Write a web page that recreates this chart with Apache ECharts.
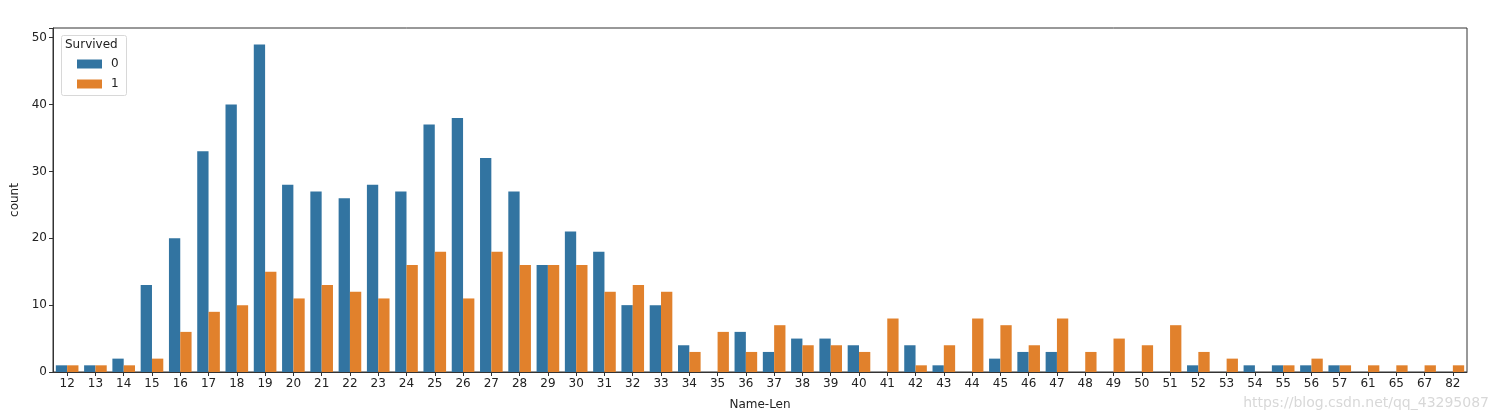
<!DOCTYPE html>
<html><head><meta charset="utf-8">
<script src="https://cdn.jsdelivr.net/npm/echarts@6/dist/echarts.min.js"></script>
<style>html,body{margin:0;padding:0;background:#fff}#c{width:1501px;height:420px}</style>
</head><body><div id="c"></div>
<script>
const categories = ['12','13','14','15','16','17','18','19','20','21','22','23','24','25','26','27','28','29','30','31','32','33','34','35','36','37','38','39','40','41','42','43','44','45','46','47','48','49','50','51','52','53','54','55','56','57','61','65','67','82'];
const survived0 = [1,1,2,13,20,33,40,49,28,27,26,28,27,37,38,32,27,16,21,18,10,10,4,0,6,3,5,5,4,0,4,1,0,2,3,3,0,0,0,0,1,0,1,1,1,1,0,0,0,0];
const survived1 = [1,1,1,2,6,9,10,15,11,13,12,11,16,18,11,18,16,16,16,12,13,12,3,6,3,7,4,4,3,8,1,4,8,7,4,8,3,5,4,7,3,2,0,1,2,1,1,1,1,1];
const yTicks = [0,10,20,30,40,50];

const font = 'DejaVu Sans';
const chart = echarts.init(document.getElementById('c'));
chart.setOption({
  animation: false,
  textStyle: {fontFamily: font},
  grid: {left: 53, right: 34, top: 28, bottom: 48, show: true, borderColor: '#333', borderWidth: 1, backgroundColor: 'transparent'},
  legend: {
    show: true, orient: 'vertical', left: 72, top: 53, itemWidth: 25, itemHeight: 9, itemGap: 8,
    icon: 'rect',
    textStyle: {fontFamily: font, fontSize: 12, color: '#222', padding: [0,0,0,4]},
    data: ['0','1'], selectedMode: false, z: 10
  },
  xAxis: {
    type: 'category', data: categories,
    name: 'Name-Len', nameLocation: 'middle', nameGap: 27,
    nameTextStyle: {fontFamily: font, fontSize: 12, color: '#222'},
    axisLine: {lineStyle: {color: '#333'}},
    axisTick: {show: true, alignWithLabel: true, length: 4, lineStyle: {color: '#333'}},
    axisLabel: {fontFamily: font, fontSize: 12, color: '#222', interval: 0, margin: 6},
    splitLine: {show: false}
  },
  yAxis: {
    type: 'value', min: 0, max: 51.45, interval: 10,
    name: 'count', nameLocation: 'middle', nameGap: 32, nameRotate: 90,
    nameTextStyle: {fontFamily: font, fontSize: 12, color: '#222'},
    axisLine: {show: true, lineStyle: {color: '#333'}},
    axisTick: {show: true, length: 4, lineStyle: {color: '#333'}},
    axisLabel: {fontFamily: font, fontSize: 12, color: '#222', margin: 6,
      formatter: v => yTicks.includes(v) ? String(v) : ''},
    splitLine: {show: false}
  },
  series: [
    {name: '0', type: 'bar', data: survived0, barGap: '0%', barCategoryGap: '20%',
     itemStyle: {color: '#3274a1'}},
    {name: '1', type: 'bar', data: survived1,
     itemStyle: {color: '#e1812c'}}
  ],
  graphic: [
    {type: 'rect', left: 61, top: 35, z: 5, shape: {width: 65, height: 60, r: 2},
     style: {fill: 'rgba(255,255,255,0.85)', stroke: '#d8d8d8', lineWidth: 1}},
    {type: 'text', left: 65, top: 39, z: 100,
     style: {text: 'Survived', font: '12px "DejaVu Sans"', fill: '#222'}},
    {type: 'text', right: 12, top: 396, z: 100,
     style: {text: 'https://blog.csdn.net/qq_43295087', font: '14px "DejaVu Sans"', fill: '#d8d8d8'}}
  ]
});
</script></body></html>
